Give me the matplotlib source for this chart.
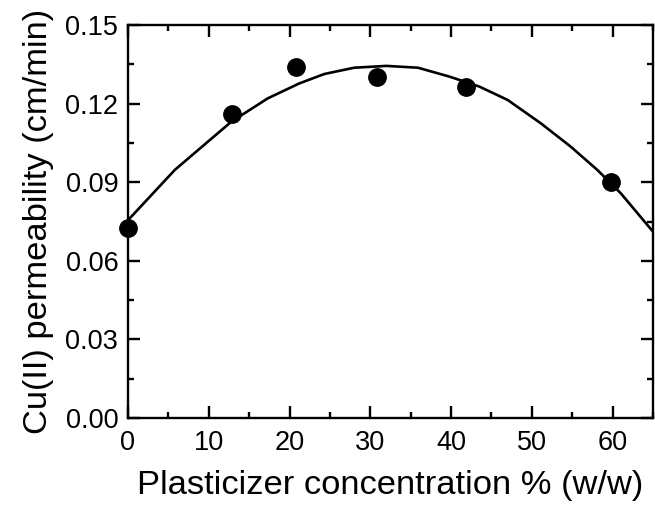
import matplotlib
matplotlib.use("Agg")
import matplotlib.pyplot as plt
from matplotlib.ticker import MultipleLocator, FormatStrFormatter

plt.rcParams['font.family'] = ['Liberation Sans', 'DejaVu Sans']

# measured points
conc = [0, 12.9, 20.8, 30.8, 41.9, 59.8]
perm = [0.0726, 0.1159, 0.1341, 0.1302, 0.1265, 0.0901]

# fitted curve
fit_x = [0, 5.8, 9.9, 12.8, 17.3, 21.2, 24.3, 28.0, 32.0, 35.9, 39.8, 43.5,
         47.0, 51.1, 54.8, 58.1, 61.0, 65.0]
fit_y = [0.0755, 0.0947, 0.1055, 0.1131, 0.1220, 0.1277, 0.1313, 0.1337, 0.1344,
         0.1337, 0.1303, 0.1265, 0.1214, 0.1125, 0.1036, 0.0947, 0.0858, 0.0711]

fig = plt.figure(figsize=(6.55, 5.17), dpi=100)
ax = fig.add_axes([0.1954, 0.1915, 0.8016, 0.7601])

ax.plot(fit_x, fit_y, color='black', lw=1.9, zorder=2)
ax.plot(conc, perm, 'o', color='black', ms=12.5, zorder=3, clip_on=False)

ax.set_xlim(0, 65)
ax.set_ylim(0, 0.15)
ax.xaxis.set_major_locator(MultipleLocator(10))
ax.xaxis.set_minor_locator(MultipleLocator(5))
ax.yaxis.set_major_locator(MultipleLocator(0.03))
ax.yaxis.set_minor_locator(MultipleLocator(0.015))
ax.yaxis.set_major_formatter(FormatStrFormatter('%.2f'))

for s in ax.spines.values():
    s.set_linewidth(1.7)
ax.tick_params(which='both', direction='in', top=True, right=True, width=1.7,
               labelsize=19.5)
ax.tick_params(which='major', length=8.5)
ax.tick_params(which='minor', length=4.3)
ax.tick_params(axis='x', pad=9)
ax.tick_params(axis='y', pad=7)

ax.set_xlabel('Plasticizer concentration % (w/w)', fontsize=24.8, labelpad=10)
ax.set_ylabel('Cu(II) permeability (cm/min)', fontsize=24.8, labelpad=8)

fig.savefig('out.png', dpi=100)
